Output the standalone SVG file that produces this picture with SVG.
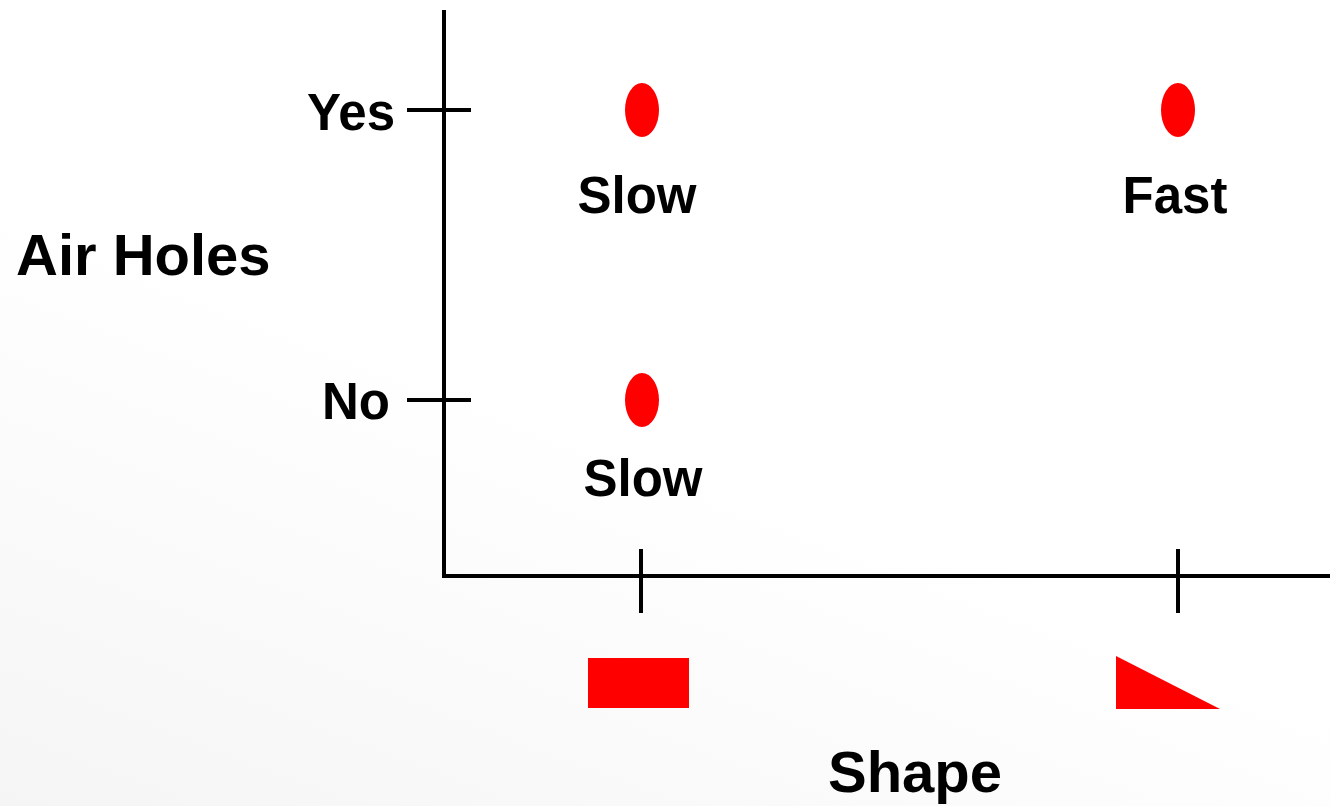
<svg xmlns="http://www.w3.org/2000/svg" width="1330" height="806" viewBox="0 0 1330 806">
<defs>
<linearGradient id="bg" x1="0" y1="1" x2="0.35" y2="0.45">
<stop offset="0" stop-color="#f5f5f5"/>
<stop offset="1" stop-color="#ffffff"/>
</linearGradient>
<style>
.ax{stroke:#000;stroke-width:4;fill:none;stroke-linecap:butt}
.pt{fill:#ff0000}
.t{font-family:"Liberation Sans",Arial,sans-serif;font-weight:bold;fill:#000}
.s{font-size:51px}
.l{font-size:58px}
</style>
</defs>
<rect width="1330" height="806" fill="url(#bg)"/>
<g id="axes">
<line class="ax" x1="444" y1="10" x2="444" y2="578"/>
<line class="ax" x1="442" y1="576" x2="1330" y2="576"/>
<line class="ax" x1="407" y1="110" x2="471" y2="110"/>
<line class="ax" x1="407" y1="400" x2="471" y2="400"/>
<line class="ax" x1="641" y1="549" x2="641" y2="613"/>
<line class="ax" x1="1178" y1="549" x2="1178" y2="613"/>
</g>
<g id="labels">
<text class="t l" x="16" y="275">Air Holes</text>
<text class="t s" x="395" y="130" text-anchor="end">Yes</text>
<text class="t s" x="390" y="419" text-anchor="end">No</text>
<text class="t l" x="915" y="792" text-anchor="middle">Shape</text>
</g>
<g id="p1"><ellipse class="pt" cx="642" cy="110" rx="17" ry="27"/><text class="t s" x="637" y="213" text-anchor="middle">Slow</text></g>
<g id="p2"><ellipse class="pt" cx="1178" cy="110" rx="17" ry="27"/><text class="t s" x="1175" y="213" text-anchor="middle">Fast</text></g>
<g id="p3"><ellipse class="pt" cx="642" cy="400" rx="17" ry="27"/><text class="t s" x="643" y="496" text-anchor="middle">Slow</text></g>
<g id="shapes">
<rect class="pt" x="588" y="658" width="101" height="50"/>
<polygon class="pt" points="1116,656 1116,709 1220,709"/>
</g>
</svg>
